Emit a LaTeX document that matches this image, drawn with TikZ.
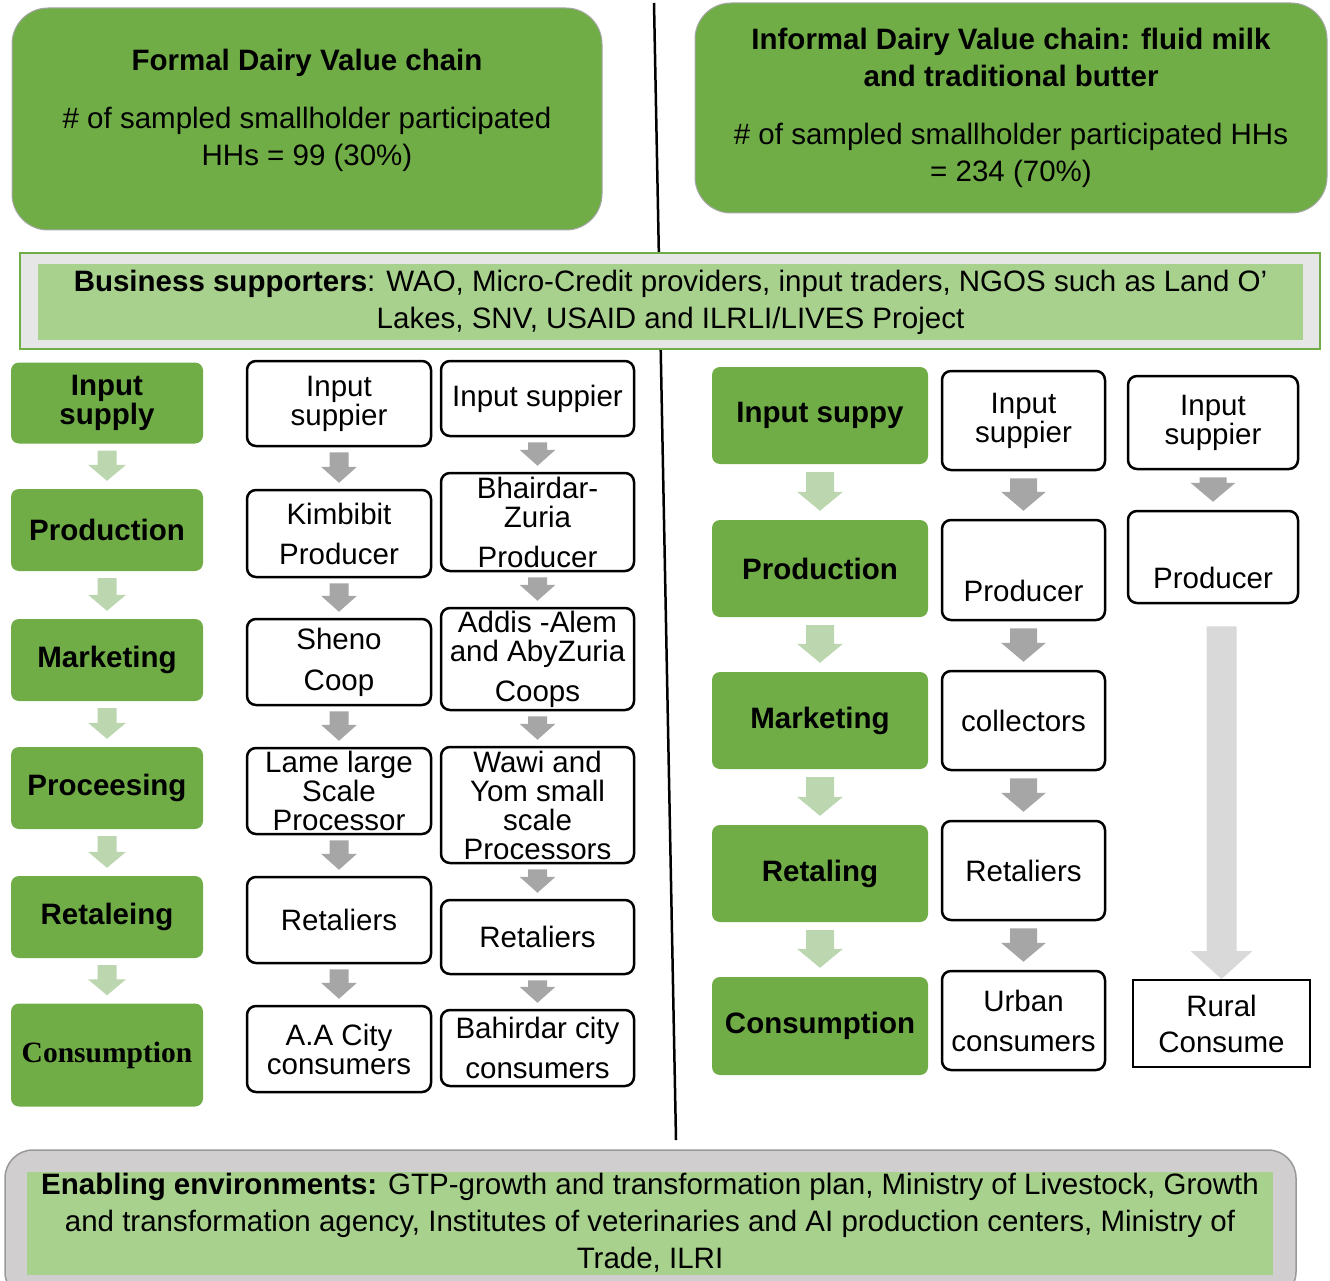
\documentclass[tikz,border=0pt]{standalone}
\usepackage{fontspec}
\setmainfont{Liberation Sans}
\newfontfamily\serifface{Liberation Serif}
\usetikzlibrary{calc}

\definecolor{stagegreen}{HTML}{70AD47}
\definecolor{panelgreen}{HTML}{A9D18E}
\definecolor{stepgreen}{HTML}{BCD6B0}
\definecolor{flowgray}{HTML}{A6A6A6}
\definecolor{ruralgray}{HTML}{D9D9D9}
\definecolor{bizgray}{HTML}{E7E6E6}
\definecolor{envgray}{HTML}{D0CECE}

\newcommand{\boxfont}{\fontsize{29.5}{29}\selectfont}
\newcommand{\headfont}{\fontsize{29.5}{37}\selectfont}

% fill, from, to, shaft half width, head half width, head length, top gap, bottom gap
\newcommand{\flowarrow}[8]{%
  \fill[#1] ($(#2.south -| #3.north)+(-#4,#7)$) -- ($(#2.south -| #3.north)+(#4,#7)$)
    -- ($(#3.north)+(#4,-#8-#6)$) -- ($(#3.north)+(#5,-#8-#6)$)
    -- ($(#3.north)+(0,-#8)$) -- ($(#3.north)+(-#5,-#8-#6)$)
    -- ($(#3.north)+(-#4,-#8-#6)$) -- cycle;}

\tikzset{
  header/.style={fill=stagegreen,draw=gray!70,line width=1pt,rounded corners=36pt},
  stage/.style={fill=stagegreen,rounded corners=8pt,font=\boxfont\bfseries},
  actor/.style={draw=black,fill=white,line width=2.5pt,rounded corners=9pt},
  ruralbox/.style={draw=black,fill=white,line width=2pt,font=\headfont},
  panel/.style={fill=panelgreen,font=\headfont},
}

\begin{document}
\begin{tikzpicture}
  [x=1pt,y=-1pt,every node/.style={inner sep=0pt,align=center,font=\boxfont}]
  \useasboundingbox (0,0) rectangle (1330,1281);

  \coordinate (divtop) at (654,3);
  \coordinate (divbot) at (676,1140);
  \draw[line width=2.5pt] (divtop) -- (divbot);

  \node[header,minimum width=590,minimum height=222] (formal) at (307,119) {};
  \node[font=\headfont] (formaltext) at (307,110)
    {\textbf{Formal Dairy Value chain}\\[21pt]\# of sampled smallholder participated\\HHs = 99 (30\%)};
  \node[header,minimum width=632,minimum height=210] (informal) at (1011,108) {};
  \node[font=\headfont] (informaltext) at (1011,108)
    {\textbf{Informal Dairy Value chain: fluid milk}\\\textbf{and traditional butter}\\[21pt]\# of sampled smallholder participated HHs\\= 234 (70\%)};

  \node[draw=stagegreen,line width=2.5pt,fill=bizgray,minimum width=1300,minimum height=96] (bizframe) at (670,301) {};
  \node[panel,minimum width=1265,minimum height=75] (biz) at (670.5,302)
    {\textbf{Business supporters}: WAO, Micro-Credit providers, input traders, NGOS such as Land O’\\Lakes, SNV, USAID and ILRLI/LIVES Project};

  \node[stage,minimum width=192,minimum height=81] (s1) at (107,403) {Input\\supply};
  \node[stage,minimum width=192,minimum height=82] (s2) at (107,530) {Production};
  \node[stage,minimum width=192,minimum height=82] (s3) at (107,660) {Marketing};
  \node[stage,minimum width=192,minimum height=82] (s4) at (107,788) {Proceesing};
  \node[stage,minimum width=192,minimum height=82] (s5) at (107,917) {Retaleing};
  \node[stage,minimum width=192,minimum height=103] (s6) at (107,1055) {\serifface\bfseries Consumption};

  \node[actor,minimum width=184,minimum height=85] (a1) at (339,403.5) {Input\\suppier};
  \node[actor,minimum width=184,minimum height=87] (a2) at (339,533.5) {Kimbibit\\[11pt]Producer};
  \node[actor,minimum width=184,minimum height=86] (a3) at (339,662) {Sheno\\[12pt]Coop};
  \node[actor,minimum width=184,minimum height=86] (a4) at (339,791) {Lame large\\Scale\\Processor};
  \node[actor,minimum width=184,minimum height=86] (a5) at (339,920) {Retaliers};
  \node[actor,minimum width=184,minimum height=86] (a6) at (339,1049) {A.A City\\consumers};

  \node[actor,minimum width=193,minimum height=75] (b1) at (537.5,398.5) {Input suppier};
  \node[actor,minimum width=193,minimum height=98] (b2) at (537.5,522) {Bhairdar-\\Zuria\\[11pt]Producer};
  \node[actor,minimum width=193,minimum height=102] (b3) at (537.5,659) {Addis -Alem\\and AbyZuria\\[11pt]Coops};
  \node[actor,minimum width=193,minimum height=116] (b4) at (537.5,805) {Wawi and\\Yom small\\scale\\Processors};
  \node[actor,minimum width=193,minimum height=74] (b5) at (537.5,937) {Retaliers};
  \node[actor,minimum width=193,minimum height=76] (b6) at (537.5,1048) {Bahirdar city\\[11pt]consumers};

  \node[stage,minimum width=216,minimum height=97] (t1) at (820,415.5) {Input suppy};
  \node[stage,minimum width=216,minimum height=97] (t2) at (820,568.5) {Production};
  \node[stage,minimum width=216,minimum height=97] (t3) at (820,720.5) {Marketing};
  \node[stage,minimum width=216,minimum height=97] (t4) at (820,873.5) {Retaling};
  \node[stage,minimum width=216,minimum height=98] (t5) at (820,1026) {Consumption};

  \node[actor,minimum width=163,minimum height=99] (c1) at (1023.5,420.5) {Input\\suppier};
  \node[actor,minimum width=163,minimum height=100] (c2) at (1023.5,570) {\strut\\[11pt]Producer};
  \node[actor,minimum width=163,minimum height=99] (c3) at (1023.5,720.5) {collectors};
  \node[actor,minimum width=163,minimum height=99] (c4) at (1023.5,870.5) {Retaliers};
  \node[actor,minimum width=163,minimum height=99] (c5) at (1023.5,1020.5) {Urban\\[11pt]consumers};

  \node[actor,minimum width=170,minimum height=93] (d1) at (1213,422.5) {Input\\suppier};
  \node[actor,minimum width=170,minimum height=92] (d2) at (1213,557) {\strut\\[11pt]Producer};
  \node[ruralbox,minimum width=177,minimum height=87] (rural) at (1221.5,1023.5) {Rural\\[-1pt]Consume};

  \foreach \from/\to in {s1/s2,s2/s3,s3/s4,s4/s5,s5/s6}
    \flowarrow{stepgreen}{\from}{\to}{9.5}{19}{16}{7}{8};
  \foreach \from/\to in {a1/a2,a2/a3,a3/a4,a4/a5,a5/a6,b1/b2,b2/b3,b3/b4,b4/b5,b5/b6}
    \flowarrow{flowgray}{\from}{\to}{9.5}{18}{16}{5}{6};
  \foreach \from/\to in {t1/t2,t2/t3,t3/t4,t4/t5}
    \flowarrow{stepgreen}{\from}{\to}{14}{23}{19}{8}{9};
  \foreach \from/\to in {c1/c2,c2/c3,c3/c4,c4/c5,d1/d2}
    \flowarrow{flowgray}{\from}{\to}{13.5}{22.5}{19}{7}{8};
  \flowarrow{ruralgray}{d2}{rural}{15}{31}{28}{22}{0};

  \node[fill=envgray,draw=gray!80,line width=1.5pt,rounded corners=28pt,minimum width=1291,minimum height=150] (envframe) at (650.5,1225) {};
  \node[panel,minimum width=1246,minimum height=103] (env) at (650,1223)
    {\textbf{Enabling environments:} GTP-growth and transformation plan, Ministry of Livestock, Growth\\and transformation agency, Institutes of veterinaries and AI production centers, Ministry of\\Trade, ILRI};
\end{tikzpicture}
\end{document}
